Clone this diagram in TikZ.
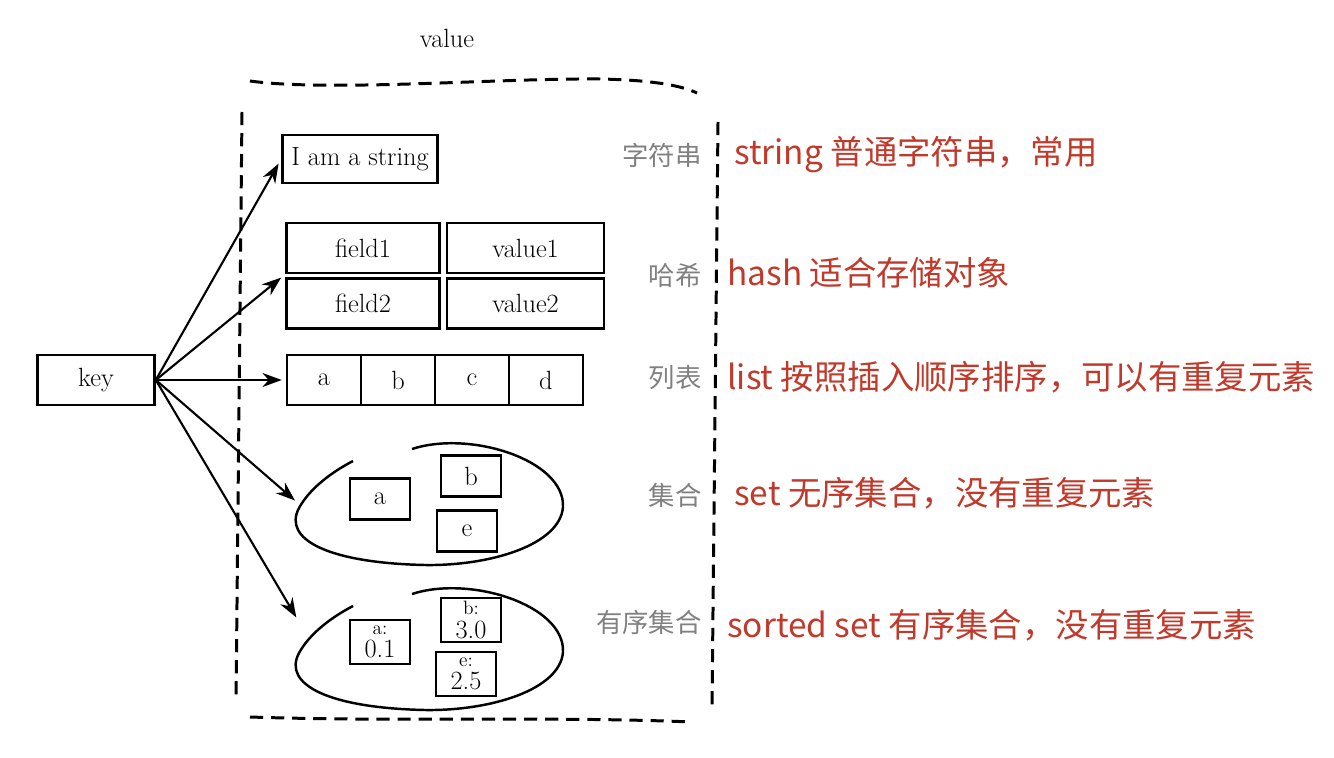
\documentclass[tikz,border=0pt]{standalone}
\usepackage{fontspec}
\newfontfamily\cjk{Noto Sans CJK SC}
\usetikzlibrary{positioning, arrows.meta}
\definecolor{notered}{RGB}{192,57,43}

\begin{document}
\begin{tikzpicture}[
                x=0.02cm, y=-0.02cm,
                >={Stealth[length=11pt, width=8pt]},
                font=\fontsize{15}{17}\selectfont,
                box/.style={rectangle, draw=black, line width=1.5pt, minimum height=1cm, inner sep=2pt, align=center},
                cell/.style={box, minimum width=1.48cm, outer sep=0pt},
                member/.style={box, minimum width=1.2cm, minimum height=0.82cm},
                scored/.style={member, minimum height=0.88cm, inner sep=1pt, font=\fontsize{15}{13.5}\selectfont},
                link/.style={->, line width=1.2pt, shorten >=3pt},
                valueframe/.style={line width=1.7pt, dash pattern=on 7.5pt off 4.5pt},
                setring/.style={line width=1.4pt},
                kind/.style={anchor=east, inner sep=0pt, font=\cjk\fontsize{15}{17}\selectfont, text=black!50},
                note/.style={anchor=west, inner sep=0pt, font=\cjk\fontsize{19}{21}\selectfont, text=notered}
            ]
            \useasboundingbox (0,0) rectangle (1334,757);

            % Key and value frame
            \node[box, minimum width=2.34cm] (key) at (96,380) {key};
            \node (valuetitle) at (447,38) {value};

            \draw[valueframe] (250,81) .. controls (330,92) and (500,78) .. (600,79) .. controls (650,80) and (680,85) .. (697,93);
            \draw[valueframe] (242,112) -- (236,702);
            \draw[valueframe] (718,122) -- (712,708);
            \draw[valueframe] (250,717) .. controls (400,722) and (550,716) .. (692,722);

            % string
            \node[box, minimum width=3.1cm, minimum height=0.96cm] (str) at (360,159) {I am a string};

            % hash
            \node[box, minimum width=3.06cm] (field1) at (363,248) {field1};
            \node[box, minimum width=3.14cm, right=0.1cm of field1] (value1) {value1};
            \node[box, minimum width=3.06cm, below=0.06cm of field1] (field2) {field2};
            \node[box, minimum width=3.14cm, right=0.1cm of field2] (value2) {value2};

            % list
            \node[cell] (la) at (324,380) {a};
            \node[cell, right=0pt of la] (lb) {b};
            \node[cell, right=0pt of lb] (lc) {c};
            \node[cell, right=0pt of lc] (ld) {d};

            % set
            \node[member] (sa) at (380,499) {a};
            \node[member] (sb) at (471,476) {b};
            \node[member] (se) at (467,531) {e};
            \draw[setring] (412,449) .. controls (470,430) and (565,460) .. (563,507) .. controls (560,545) and (490,566) .. (425,565) .. controls (330,563) and (282,540) .. (299,508) .. controls (310,488) and (332,472) .. (353,461);
            \coordinate (settip) at (299,504);

            % sorted set
            \node[scored] (za) at (380,642) {{\fontsize{11}{11}\selectfont a:}\\0.1};
            \node[scored] (zb) at (471,620) {{\fontsize{11}{11}\selectfont b:}\\3.0};
            \node[scored] (ze) at (466,674) {{\fontsize{11}{11}\selectfont e:}\\2.5};
            \draw[setring] (412,594) .. controls (470,575) and (565,605) .. (563,652) .. controls (560,690) and (490,711) .. (425,710) .. controls (330,708) and (282,685) .. (299,653) .. controls (310,633) and (332,617) .. (353,606);
            \coordinate (sorttip) at (299,622);

            % Routing
            \draw[link] (key.east) -- (str.west);
            \draw[link] (key.east) -- (field1.south west);
            \draw[link] (key.east) -- (la.west);
            \draw[link] (key.east) -- (settip);
            \draw[link] (key.east) -- (sorttip);

            % Type names
            \node[kind] (kstr) at (702,155) {字符串};
            \node[kind] (khash) at (702,275) {哈希};
            \node[kind] (klist) at (702,378) {列表};
            \node[kind] (kset) at (702,495) {集合};
            \node[kind] (kzset) at (702,622) {有序集合};

            % Notes
            \node[note] (nstr) at (734,155) {string 普通字符串，常用};
            \node[note] (nhash) at (727,273) {hash 适合存储对象};
            \node[note] (nlist) at (727,377) {list 按照插入顺序排序，可以有重复元素};
            \node[note] (nset) at (734,493) {set 无序集合，没有重复元素};
            \node[note] (nzset) at (727,625) {sorted set 有序集合，没有重复元素};

        \end{tikzpicture}
\end{document}
